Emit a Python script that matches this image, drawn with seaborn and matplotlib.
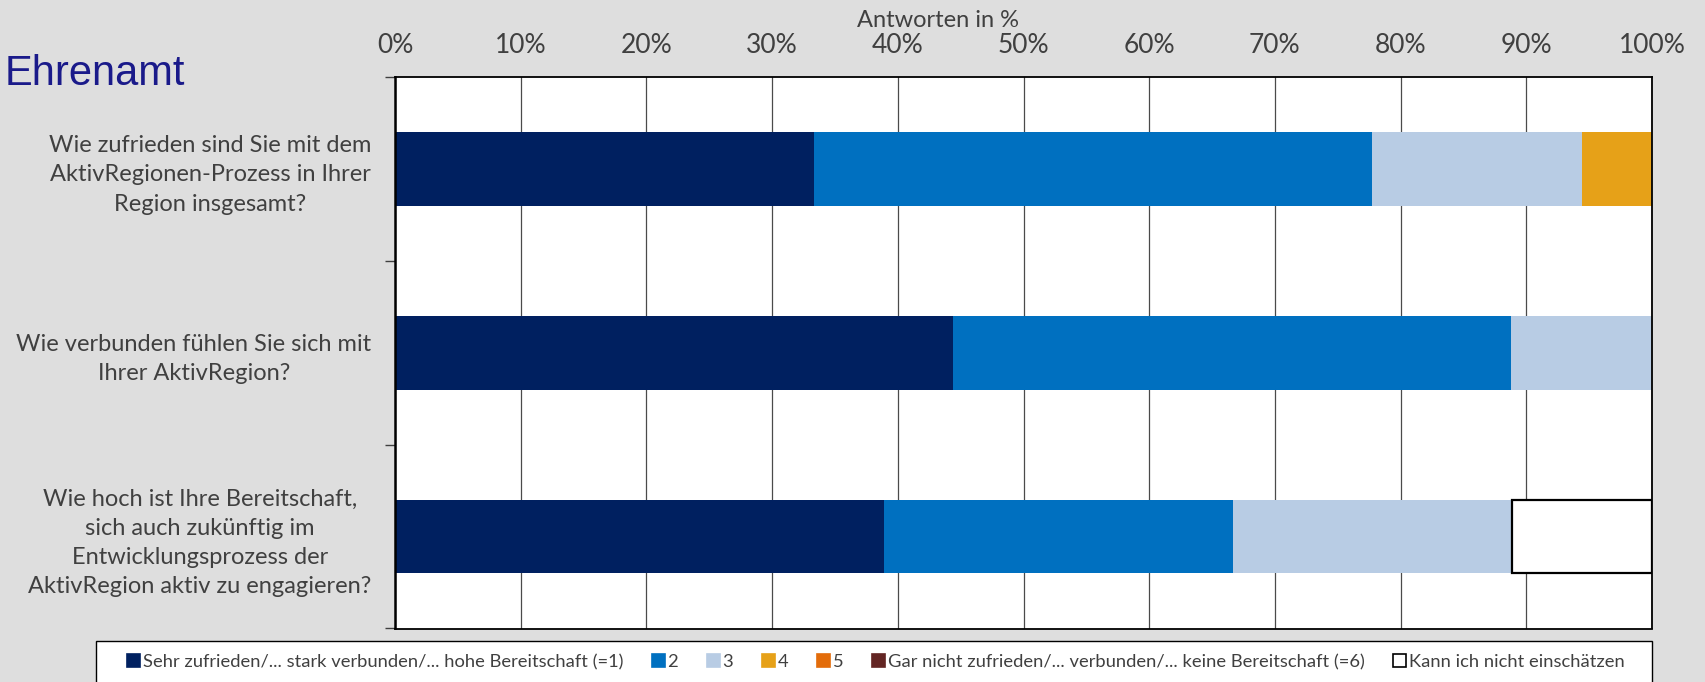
import numpy as np
import pandas as pd
import matplotlib
matplotlib.use("Agg")
import matplotlib.pyplot as plt
from matplotlib.patches import Rectangle
from matplotlib.ticker import FixedLocator, PercentFormatter
import seaborn as sns

# --- data ---------------------------------------------------------------
fragen = [
    "Wie zufrieden sind Sie mit dem\nAktivRegionen-Prozess in Ihrer\nRegion insgesamt?",
    "Wie verbunden fühlen Sie sich mit\nIhrer AktivRegion?",
    "Wie hoch ist Ihre Bereitschaft,\nsich auch zukünftig im\nEntwicklungsprozess der\nAktivRegion aktiv zu engagieren?",
]
stufen = [
    "Sehr zufrieden/... stark verbunden/... hohe Bereitschaft (=1)",
    "2", "3", "4", "5",
    "Gar nicht zufrieden/... verbunden/... keine Bereitschaft (=6)",
    "Kann ich nicht einschätzen",
]
werte_zufriedenheit = [33.3, 44.4, 16.7, 5.6, 0.0, 0.0, 0.0]
werte_verbundenheit = [44.4, 44.4, 11.2, 0.0, 0.0, 0.0, 0.0]
werte_bereitschaft = [38.9, 27.8, 22.2, 0.0, 0.0, 0.0, 11.1]
farben = ["#002060", "#0070C0", "#B8CCE4", "#E6A118", "#E36C0A", "#632523", "#FFFFFF"]
x_ticks = [0, 10, 20, 30, 40, 50, 60, 70, 80, 90, 100]

df = pd.DataFrame(
    [(f, s, w)
     for f, werte in zip(fragen, [werte_zufriedenheit, werte_verbundenheit, werte_bereitschaft])
     for s, w in zip(stufen, werte)],
    columns=["Frage", "Stufe", "Wert"],
)

# --- style --------------------------------------------------------------
sns.set_style("white")
plt.rcParams["font.family"] = ["Lato", "DejaVu Sans"]
text_grau = "#404040"
hintergrund = "#DEDEDE"

fig = plt.figure(figsize=(17.05, 6.82), dpi=100, facecolor=hintergrund)
ax = fig.add_axes([395 / 1705, 1 - 628.5 / 682, 1257 / 1705, 551.5 / 682])
ax.set_facecolor("white")

# stacked horizontal bars; histplot stacks the last hue level first
sns.histplot(
    data=df, y="Frage", hue="Stufe", weights="Wert",
    multiple="stack", discrete=True, shrink=0.4,
    hue_order=stufen[::-1], palette=dict(zip(stufen, farben)),
    linewidth=0, alpha=1, legend=False, ax=ax,
)

for p in ax.patches:
    if p.get_width() <= 0:
        p.set_visible(False)
    elif p.get_facecolor()[:3] == (1.0, 1.0, 1.0):
        p.set_edgecolor("black")
        p.set_linewidth(1.6)

# --- axes ---------------------------------------------------------------
ax.set_xlim(0, 100)
ax.set_ylim(2.5, -0.5)
ax.xaxis.tick_top()
ax.xaxis.set_label_position("top")
ax.xaxis.set_major_locator(FixedLocator(x_ticks))
ax.xaxis.set_major_formatter(PercentFormatter(100, decimals=0))
ax.tick_params(axis="x", length=0, pad=14, labelsize=19, labelcolor=text_grau)

ax.set_xlabel("Antworten in %", fontsize=17, color=text_grau)
ax.xaxis.set_label_coords(0.432, 1.103)
ax.xaxis.label.set_va("center")

ax.set_ylabel("")
ax.set_yticks(range(len(fragen)), labels=fragen, multialignment="center", linespacing=1.48)
ax.yaxis.set_minor_locator(FixedLocator([-0.5, 0.5, 1.5, 2.5]))
ax.tick_params(axis="y", which="major", length=0, pad=17, labelsize=17, labelcolor=text_grau)
ax.tick_params(axis="y", which="minor", length=7, width=1, color="#404040", left=True)

ax.set_axisbelow(True)
ax.xaxis.grid(True, color="#4A4A4A", linewidth=0.9)
ax.yaxis.grid(False)
for s in ax.spines.values():
    s.set_visible(True)
    s.set_color("black")
    s.set_linewidth(1.3)
ax.spines["left"].set_linewidth(1.8)

# --- title --------------------------------------------------------------
fig.text(5 / 1705, 1 - 85 / 682, "Ehrenamt", fontsize=30, color="#1A1A8A",
         family=["Liberation Sans", "DejaVu Sans"], ha="left", va="baseline")

# --- legend -------------------------------------------------------------
legend_box = Rectangle((96 / 1705, -0.05), 1556 / 1705, 0.05 + 41 / 682,
                       transform=fig.transFigure, facecolor="white",
                       edgecolor="black", linewidth=1.0, zorder=1)
fig.add_artist(legend_box)

handles = [Rectangle((0, 0), 1, 1, facecolor=c,
                     edgecolor="black" if c == "#FFFFFF" else c, linewidth=1.2)
           for c in farben]
leg = fig.legend(
    handles, stufen, loc="center left", bbox_to_anchor=(127 / 1705, 1 - 662 / 682),
    ncol=7, fontsize=13.2, frameon=False, borderpad=0, borderaxespad=0,
    handlelength=0.7, handleheight=0.7, handletextpad=0.15, columnspacing=1.57,
    labelcolor=text_grau,
)
leg.set_zorder(2)

fig.savefig("out.png", dpi=100, facecolor=hintergrund)
